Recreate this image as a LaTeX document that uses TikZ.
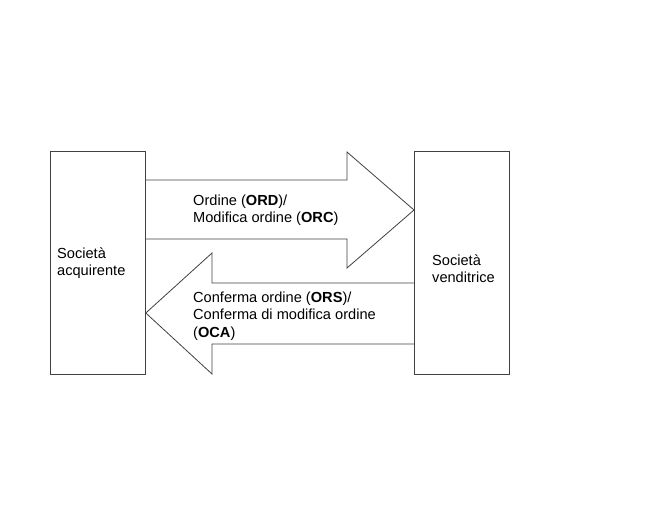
\documentclass[tikz,border=0pt]{standalone}
\usepackage{fontspec}
\setmainfont{Liberation Sans}
\begin{document}
\begin{tikzpicture}[x=1pt,y=-1pt,
  line/.style={draw=black!75,line width=0.8pt},
  lbl/.style={anchor=west,inner sep=0pt,font=\fontsize{14.6}{17.3}\selectfont,align=left}]
\useasboundingbox (0,0) rectangle (672,504);
% boxes
\node[line,minimum width=95pt,minimum height=223pt,inner sep=0pt,anchor=north west] (acq) at (50,151) {};
\node[line,minimum width=95pt,minimum height=223pt,inner sep=0pt,anchor=north west] (ven) at (414,151) {};
% top arrow
\draw[line] (acq.east |- 0,180) coordinate (t1) -- (347,180) -- (347,152) -- (ven.west |- 0,210) coordinate (ttip)
  -- (347,268) -- (347,239) -- (acq.east |- 0,239);
% bottom arrow
\draw[line] (ven.west |- 0,283) -- (212,283) -- (212,253) -- (acq.east |- 0,313) coordinate (btip)
  -- (212,374) -- (212,344) -- (ven.west |- 0,344);
% labels
\node[lbl] (tacq) at (57,263) {Società\\acquirente};
\node[lbl] (tven) at (432,269) {Società\\venditrice};
\node[lbl] (tord) at (193,210) {Ordine (\textbf{ORD})/\\Modifica ordine (\textbf{ORC})};
\node[lbl] (tconf) at (193,316) {Conferma ordine (\textbf{ORS})/\\Conferma di modifica ordine\\(\textbf{OCA})};
\end{tikzpicture}
\end{document}
